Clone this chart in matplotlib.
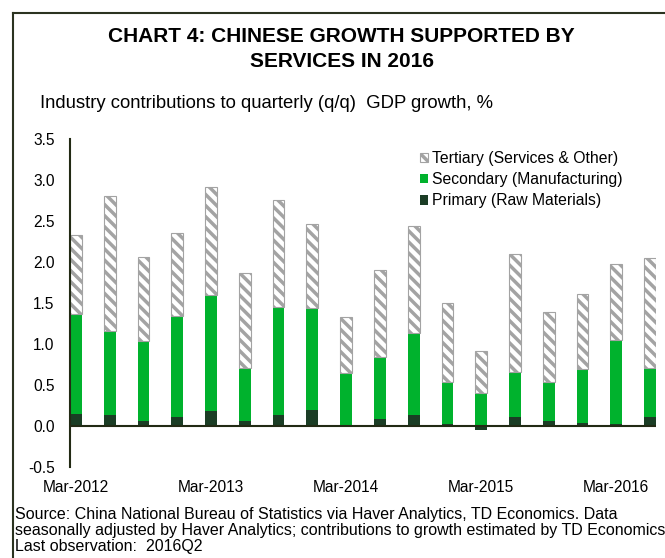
import matplotlib
matplotlib.use("Agg")
from matplotlib import pyplot as plt
from matplotlib.lines import Line2D
from matplotlib.patches import Patch
import numpy as np

plt.rcParams["font.family"] = ["Liberation Sans", "DejaVu Sans"]
plt.rcParams["hatch.linewidth"] = 2.5

quarters = ["2012Q1", "2012Q2", "2012Q3", "2012Q4", "2013Q1", "2013Q2", "2013Q3", "2013Q4",
            "2014Q1", "2014Q2", "2014Q3", "2014Q4", "2015Q1", "2015Q2", "2015Q3", "2015Q4",
            "2016Q1", "2016Q2"]
primary = [0.15, 0.14, 0.06, 0.11, 0.18, 0.06, 0.13, 0.20, -0.01, 0.08, 0.13, 0.02,
           -0.05, 0.11, 0.06, 0.04, 0.02, 0.11]
secondary = [1.22, 1.02, 0.98, 1.23, 1.42, 0.65, 1.32, 1.24, 0.65, 0.76, 1.00, 0.52,
             0.40, 0.55, 0.48, 0.66, 1.03, 0.60]
tertiary = [0.96, 1.65, 1.02, 1.01, 1.32, 1.15, 1.31, 1.02, 0.68, 1.06, 1.31, 0.96,
            0.51, 1.44, 0.85, 0.91, 0.93, 1.34]
tick_idx = [0, 4, 8, 12, 16]
tick_labels = ["Mar-2012", "Mar-2013", "Mar-2014", "Mar-2015", "Mar-2016"]

c_prim = "#1b3d25"
c_sec = "#00b22d"
c_ter = "#a3a3a3"

fig = plt.figure(figsize=(6.65, 5.58), dpi=100)
ax = fig.add_axes([70 / 665, 1 - 467 / 558, 586 / 665, 328 / 558])

x = np.arange(len(quarters))
w = 0.35
p = np.array(primary)
s = np.array(secondary)
t = np.array(tertiary)
sec_bottom = np.clip(p, 0, None)
ax.bar(x, p, w, color=c_prim, linewidth=0)
ax.bar(x, s, w, bottom=sec_bottom, color=c_sec, linewidth=0)
ax.bar(x, t, w, bottom=sec_bottom + s, color="white", edgecolor=c_ter,
       hatch="\\\\\\", linewidth=0.8)

ax.axhline(0, color="#222a14", linewidth=1.5, zorder=3)
ax.set_xlim(-w / 2, len(quarters) - 1 + w / 2)
ax.set_ylim(-0.5, 3.5)
ax.set_yticks(np.arange(-0.5, 3.51, 0.5))
ax.set_yticklabels([f"{v:.1f}" for v in np.arange(-0.5, 3.51, 0.5)])
ax.set_xticks(tick_idx)
ax.set_xticklabels(tick_labels)
ax.tick_params(axis="both", length=0, labelsize=11.2)
ax.tick_params(axis="y", pad=11)
ax.tick_params(axis="x", pad=9)
for sp in ["top", "right", "bottom"]:
    ax.spines[sp].set_visible(False)
ax.spines["left"].set_color("#222a14")
ax.spines["left"].set_linewidth(1.5)

handles = [Patch(facecolor="white", edgecolor=c_ter, hatch="\\\\\\", linewidth=0.8),
           Patch(facecolor=c_sec), Patch(facecolor=c_prim)]
labels = ["Tertiary (Services & Other)", "Secondary (Manufacturing)", "Primary (Raw Materials)"]
ax.legend(handles, labels, loc="upper left", bbox_to_anchor=(342 / 586, (467 - 143) / 328),
          frameon=False, fontsize=11.3, handlelength=0.55, handleheight=0.55,
          handletextpad=0.25, labelspacing=0.4, borderpad=0)

fig.text(0.514, 1 - 27 / 558, "CHART 4: CHINESE GROWTH SUPPORTED BY\nSERVICES IN 2016",
         ha="center", va="top", fontsize=15, fontweight="bold", linespacing=1.4)
fig.text(40 / 665, 1 - 108 / 558, "Industry contributions to quarterly (q/q)  GDP growth, %",
         ha="left", va="baseline", fontsize=13.3)
fig.text(15 / 665, 1 - 507 / 558,
         "Source: China National Bureau of Statistics via Haver Analytics, TD Economics. Data\n"
         "seasonally adjusted by Haver Analytics; contributions to growth estimated by TD Economics\n"
         "Last observation:  2016Q2",
         ha="left", va="top", fontsize=11.5, linespacing=1.1)

# frame: top and left edges only
fig.add_artist(Line2D([13 / 665, 13 / 665], [0, 1 - 13 / 558], transform=fig.transFigure,
                      color="#2b3320", linewidth=1.5))
fig.add_artist(Line2D([13 / 665, 1], [1 - 13 / 558, 1 - 13 / 558], transform=fig.transFigure,
                      color="#2b3320", linewidth=1.5))

fig.savefig("out.png", dpi=100)
